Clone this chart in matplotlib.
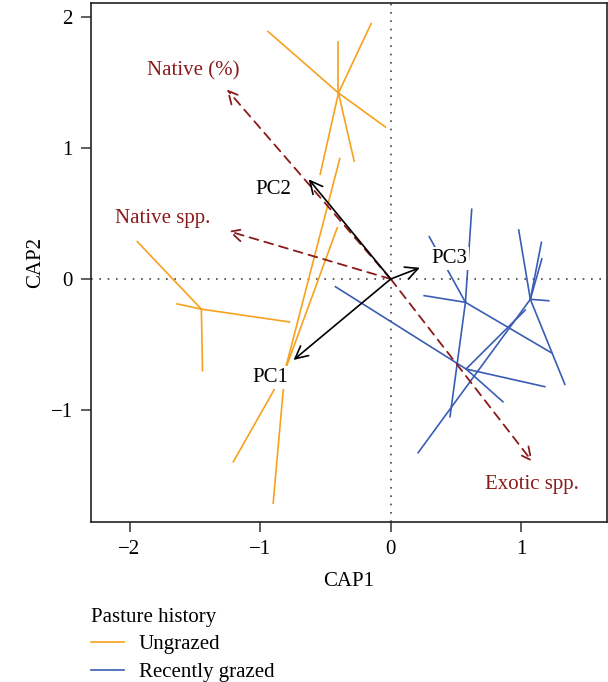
import numpy as np
import matplotlib.pyplot as plt
from matplotlib.lines import Line2D

plt.rcParams["font.family"] = ["Liberation Serif", "DejaVu Serif"]
plt.rcParams["font.size"] = 15

# spider centroids and the sites hanging off them (CAP1, CAP2)
ungrazed_centres = [(-0.40, 1.42), (-0.81, -0.70), (-1.45, -0.23)]
ungrazed_sites = [
    [(-0.94, 1.89), (-0.40, 1.81), (-0.15, 1.95), (-0.04, 1.16), (-0.28, 0.90), (-0.54, 0.80)],
    [(-0.39, 0.92), (-0.41, 0.39), (-1.205, -1.395), (-0.90, -1.71)],
    [(-1.94, 0.285), (-1.636, -0.19), (-0.775, -0.328), (-1.441, -0.70)],
]
grazed_centres = [(0.572, -0.178), (1.069, -0.155), (0.577, -0.687)]
grazed_sites = [
    [(0.62, 0.532), (0.295, 0.323), (0.256, -0.127), (1.23, -0.563), (0.454, -1.051)],
    [(0.98, 0.374), (1.154, 0.28), (1.157, 0.153), (1.21, -0.166), (1.333, -0.804), (0.21, -1.326)],
    [(-0.423, -0.059), (1.18, -0.822), (0.859, -0.937), (1.03, -0.237)],
]

# fitted vectors
pc_names = ["PC1", "PC2", "PC3"]
pc_tips = [(-0.744, -0.618), (-0.628, 0.761), (0.223, 0.086)]
pc_label_pos = [(-0.92, -0.75), (-0.90, 0.685), (0.449, 0.158)]
var_names = ["Native (%)", "Native spp.", "Exotic spp."]
var_tips = [(-1.256, 1.448), (-1.244, 0.366), (1.085, -1.395)]
var_label_pos = [(-1.513, 1.59), (-1.744, 0.463), (1.085, -1.565)]

col_ungrazed = "#F7A11E"
col_grazed = "#3A5DB4"
col_var = "#8B1A1A"

fig = plt.figure(figsize=(6.08, 6.82), dpi=100)
ax = fig.add_axes([91 / 608, 1 - 522 / 682, 516 / 608, 519 / 682])

ax.axhline(0, color="#444444", lw=1.2, ls=(0, (1, 4)), zorder=1)
ax.axvline(0, color="#444444", lw=1.2, ls=(0, (1, 4)), zorder=1)

for centres, sites, col in [
    (ungrazed_centres, ungrazed_sites, col_ungrazed),
    (grazed_centres, grazed_sites, col_grazed),
]:
    for (cx, cy), group in zip(centres, sites):
        for sx, sy in group:
            ax.plot([cx, sx], [cy, sy], color=col, lw=1.2, zorder=2)

for tip in var_tips:
    ax.annotate("", xy=tip, xytext=(0, 0),
                arrowprops=dict(arrowstyle="->,head_length=0.6,head_width=0.3",
                                color=col_var, lw=1.3, linestyle=(0, (5, 3.5)),
                                shrinkA=0, shrinkB=0), zorder=3)
for tip in pc_tips:
    ax.annotate("", xy=tip, xytext=(0, 0),
                arrowprops=dict(arrowstyle="->,head_length=0.6,head_width=0.3",
                                color="black", lw=1.2, shrinkA=0, shrinkB=0), zorder=4)

box = dict(facecolor="white", edgecolor="none", pad=1.5)
for name, (x, y) in zip(pc_names, pc_label_pos):
    ax.text(x, y, name, ha="center", va="center", color="black", bbox=box, zorder=5)
for name, (x, y) in zip(var_names, var_label_pos):
    ax.text(x, y, name, ha="center", va="center", color=col_var, bbox=box, zorder=5)

ax.set_xlim(-2.295, 1.656)
ax.set_ylim(-1.855, 2.107)
ax.set_xticks([-2, -1, 0, 1])
ax.set_yticks([-1, 0, 1, 2])
ax.set_xticklabels(["\u22122", "\u22121", "0", "1"])
ax.set_yticklabels(["\u22121", "0", "1", "2"])
ax.tick_params(length=7, width=1.1, pad=6, color="#333333")
for s in ax.spines.values():
    s.set_linewidth(1.2)
    s.set_color("#222222")
ax.set_xlabel("CAP1", labelpad=9)
ax.set_ylabel("CAP2", labelpad=4)

handles = [Line2D([], [], color=col_ungrazed, lw=1.2),
           Line2D([], [], color=col_grazed, lw=1.2)]
fig.legend(handles, ["Ungrazed", "Recently grazed"], title="Pasture history",
           loc="upper left", bbox_to_anchor=(91 / 608, 1 - 608 / 682),
           frameon=False, alignment="left", handlelength=1.6, handletextpad=0.7,
           labelspacing=0.38, title_fontsize=15, fontsize=15, borderpad=0,
           borderaxespad=0)

fig.savefig("out.png", dpi=100)
